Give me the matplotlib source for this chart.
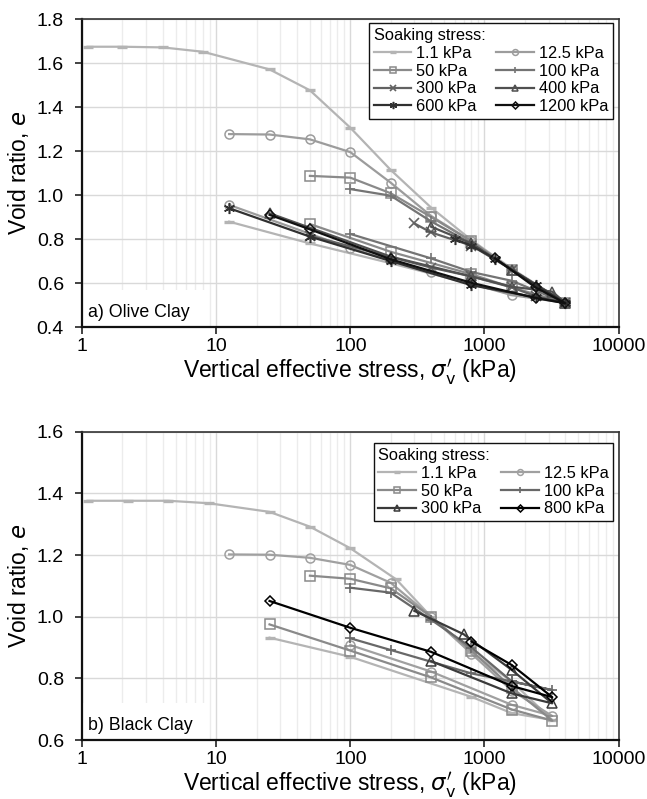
import matplotlib
matplotlib.use("Agg")
import matplotlib.pyplot as plt
from matplotlib.patches import Rectangle
from matplotlib.ticker import LogLocator, FixedLocator, NullFormatter, FuncFormatter

plt.rcParams['font.family'] = ['Liberation Sans', 'DejaVu Sans']
plt.rcParams['mathtext.fontset'] = 'dejavusans'

# ---------------- Olive Clay (a) ----------------
olive_labels = ['1.1 kPa', '12.5 kPa', '50 kPa', '100 kPa', '300 kPa', '400 kPa', '600 kPa', '1200 kPa']
olive_stress = [
    [1.1, 2, 4, 8, 25, 50, 100, 200, 400, 800, 1600, 4000, 1600, 800, 200, 50, 12.5],
    [12.5, 25, 50, 100, 200, 400, 800, 1600, 4000, 1600, 400, 100, 12.5],
    [50, 100, 200, 400, 800, 1600, 4000, 1600, 800, 200, 50],
    [100, 200, 400, 800, 1600, 4000, 1600, 800, 400, 100],
    [300, 400, 800, 1600, 4000, 2400, 1600, 800, 400, 50],
    [400, 800, 1600, 4000, 3200, 1600, 800, 200, 25],
    [600, 800, 1200, 2400, 4000, 2400, 800, 200, 50, 12.5],
    [1200, 2400, 4000, 2400, 800, 200, 50, 25],
]
olive_void = [
    [1.674, 1.674, 1.671, 1.651, 1.571, 1.476, 1.306, 1.114, 0.943, 0.795, 0.665, 0.51, 0.55, 0.595, 0.69, 0.78, 0.879],
    [1.277, 1.275, 1.253, 1.195, 1.056, 0.905, 0.79, 0.66, 0.51, 0.545, 0.648, 0.758, 0.955],
    [1.087, 1.079, 1.008, 0.90, 0.79, 0.66, 0.51, 0.58, 0.64, 0.742, 0.868],
    [1.027, 0.997, 0.88, 0.78, 0.66, 0.51, 0.61, 0.65, 0.712, 0.823],
    [0.871, 0.83, 0.77, 0.66, 0.51, 0.54, 0.58, 0.63, 0.67, 0.815],
    [0.856, 0.78, 0.66, 0.51, 0.561, 0.583, 0.63, 0.72, 0.917],
    [0.80, 0.77, 0.71, 0.59, 0.51, 0.535, 0.59, 0.70, 0.811, 0.94],
    [0.712, 0.58, 0.508, 0.532, 0.601, 0.708, 0.844, 0.91],
]
olive_colors = ['#b4b4b4', '#9c9c9c', '#8a8a8a', '#747474', '#626262', '#505050', '#303030', '#101010']
olive_markers = ['_', 'o', 's', '+', 'x', '^', (6, 2, 0), 'D']

# ---------------- Black Clay (b) ----------------
black_labels = ['1.1 kPa', '12.5 kPa', '50 kPa', '100 kPa', '300 kPa', '800 kPa']
black_stress = [
    [1.1, 2.2, 4.4, 8.8, 25, 50, 100, 220, 400, 800, 1600, 3200, 1600, 800, 100, 25],
    [12.5, 25, 50, 100, 200, 400, 800, 1600, 3200, 1600, 400, 100],
    [50, 100, 200, 400, 800, 1600, 3200, 1600, 400, 100, 25],
    [100, 200, 400, 800, 1600, 3200, 1600, 800, 200, 100],
    [300, 700, 1600, 3200, 1600, 400],
    [800, 1600, 3200, 1600, 400, 100, 25],
]
black_void = [
    [1.376, 1.376, 1.376, 1.368, 1.340, 1.292, 1.222, 1.121, 1.0, 0.886, 0.789, 0.665, 0.687, 0.74, 0.87, 0.932],
    [1.202, 1.201, 1.191, 1.168, 1.110, 1.0, 0.88, 0.76, 0.678, 0.714, 0.822, 0.908],
    [1.133, 1.123, 1.092, 1.0, 0.89, 0.77, 0.663, 0.699, 0.803, 0.890, 0.975],
    [1.094, 1.078, 0.99, 0.90, 0.79, 0.762, 0.79, 0.816, 0.892, 0.930],
    [1.019, 0.943, 0.827, 0.719, 0.751, 0.856],
    [0.919, 0.843, 0.739, 0.775, 0.886, 0.964, 1.051],
]
black_colors = ['#b4b4b4', '#a0a0a0', '#8a8a8a', '#686868', '#3a3a3a', '#000000']
black_markers = ['_', 'o', 's', '+', '^', 'D']

x_ticks = [1, 10, 100, 1000, 10000]
olive_yticks = [0.4, 0.6, 0.8, 1.0, 1.2, 1.4, 1.6, 1.8]
black_yticks = [0.6, 0.8, 1.0, 1.2, 1.4, 1.6]

TICK_FS = 14
LABEL_FS = 16.5
LEG_FS = 11.8
PANEL_FS = 12.8

fig = plt.figure(figsize=(6.47, 7.99), dpi=100)
ax1 = fig.add_axes([0.1267, 0.5907, 0.8295, 0.3855])
ax2 = fig.add_axes([0.1267, 0.0738, 0.8295, 0.3859])


def style_axes(ax, yticks, panel_text):
    ax.set_xscale('log')
    ax.set_xlim(1, 10000)
    ax.set_ylim(yticks[0], yticks[-1])
    ax.xaxis.set_major_locator(FixedLocator(x_ticks))
    ax.xaxis.set_minor_locator(LogLocator(base=10, subs=range(2, 10), numticks=20))
    ax.xaxis.set_minor_formatter(NullFormatter())
    ax.xaxis.set_major_formatter(FuncFormatter(lambda v, p: f'{int(round(v))}'))
    ax.yaxis.set_major_locator(FixedLocator(yticks))
    ax.yaxis.set_major_formatter(FuncFormatter(lambda v, p: f'{v:.1f}'))
    ax.grid(True, which='major', color='#d9d9d9', lw=1.0, zorder=0)
    ax.grid(True, which='minor', axis='x', color='#ececec', lw=1.0, zorder=0)
    ax.set_axisbelow(True)
    ax.tick_params(axis='both', which='major', direction='out', length=5, width=1.2,
                   labelsize=TICK_FS, color='#222222')
    ax.tick_params(axis='x', which='minor', length=0)
    ax.tick_params(axis='y', which='major', pad=8)
    ax.tick_params(axis='x', which='major', pad=3)
    for s in ['top', 'right']:
        ax.spines[s].set_color('#333333')
        ax.spines[s].set_linewidth(1.2)
    for s in ['left', 'bottom']:
        ax.spines[s].set_color('#111111')
        ax.spines[s].set_linewidth(1.6)
    ax.set_ylabel('Void ratio, $e$', fontsize=LABEL_FS, labelpad=4)
    ax.set_xlabel("Vertical effective stress, $\\sigma_\\mathrm{v}'$ (kPa)", fontsize=LABEL_FS, labelpad=2)
    ax.add_patch(Rectangle((0, 0), 0.232, 0.12, transform=ax.transAxes, facecolor='white',
                           edgecolor='none', zorder=1.5))
    ax.text(0.011, 0.018, panel_text, transform=ax.transAxes, fontsize=PANEL_FS,
            ha='left', va='bottom', zorder=3)


def draw(ax, stresses, voids, labels, colors, markers):
    for xs, ys, lab, c, m in zip(stresses, voids, labels, colors, markers):
        kw = dict(color=c, lw=1.6, marker=m, label=lab, zorder=4)
        if isinstance(m, str) and m in ('o', 's', '^', 'D'):
            kw.update(mfc='none', mec=c, ms=6.5 if m != 'D' else 5.5, mew=1.1)
        elif m == '_':
            kw.update(ms=7, mew=2.4)
        elif isinstance(m, tuple):
            kw.update(ms=8, mew=1.1)
        else:
            kw.update(ms=7.5, mew=1.2)
        ax.plot(xs, ys, **kw)


draw(ax1, olive_stress, olive_void, olive_labels, olive_colors, olive_markers)
draw(ax2, black_stress, black_void, black_labels, black_colors, black_markers)
style_axes(ax1, olive_yticks, 'a) Olive Clay')
style_axes(ax2, black_yticks, 'b) Black Clay')


def legend(ax, anchor):
    h, l = ax.get_legend_handles_labels()
    left = h[0::2]
    right = h[1::2]
    ll = l[0::2]
    rl = l[1::2]
    leg = ax.legend(left + right, ll + rl, ncol=2, title='Soaking stress:', loc='upper right',
                    bbox_to_anchor=anchor, frameon=True, fancybox=False, edgecolor='#111111',
                    fontsize=LEG_FS, title_fontsize=LEG_FS, handlelength=2.3, handletextpad=0.3,
                    columnspacing=1.2, labelspacing=0.17, borderpad=0.3, borderaxespad=0.0,
                    alignment='left', markerscale=0.65, framealpha=1.0)
    leg.get_frame().set_linewidth(1.0)
    leg.set_zorder(10)


legend(ax1, (0.99, 0.987))
legend(ax2, (0.99, 0.963))

fig.savefig('out.png', dpi=100, facecolor='white')
